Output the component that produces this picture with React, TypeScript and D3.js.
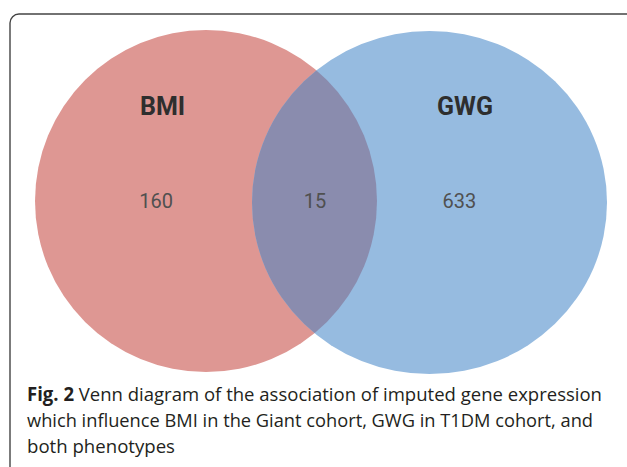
import React from "react";
import * as d3 from "d3";

// Venn sets and region counts
const setNames = ["BMI", "GWG"];
const setColors = ["#de9793", "#96bbe0"];
const overlapColor = "#8a8cae";
const regionCounts = [160, 15, 633]; // BMI only, both, GWG only

// circle layout in unit space (radius of BMI = 1)
const setCx = [0, 1.307];
const setCy = [0, 0.009];
const setRx = [1, 1.038];
const setRy = [1, 1.003];
const labelX = [-0.254, 1.515];
const countX = [-0.292, 0.637, 1.482];

const captionBold = "Fig. 2";
const captionLines = [
  "Venn diagram of the association of imputed gene expression",
  "which influence BMI in the Giant cohort, GWG in T1DM cohort, and",
  "both phenotypes",
];

const W = 627;
const H = 467;

export default function App() {
  const x = d3.scaleLinear().domain([-1, 2.345]).range([35, 607]);
  const y = d3.scaleLinear().domain([-1, 1]).range([30, 372]);
  const k = x(1) - x(0);

  const ellipses = setNames.map((n, i) => ({
    name: n,
    cx: x(setCx[i]),
    cy: y(setCy[i]),
    rx: setRx[i] * k,
    ry: setRy[i] * k,
    color: setColors[i],
  }));

  const textFont = "Roboto, 'Noto Sans', sans-serif";
  const capFont = "'Open Sans', 'Noto Sans', sans-serif";

  return (
    <svg
      width={W}
      height={H}
      style={{ position: "absolute", left: 0, top: 0, background: "#fff" }}
    >
      <defs>
        <clipPath id="clipGWG">
          <ellipse
            cx={ellipses[1].cx}
            cy={ellipses[1].cy}
            rx={ellipses[1].rx}
            ry={ellipses[1].ry}
          />
        </clipPath>
      </defs>

      {/* frame, right and bottom sides run off the picture */}
      <rect
        x={10}
        y={14}
        width={640}
        height={470}
        rx={9}
        fill="none"
        stroke="#444"
        strokeWidth={1.4}
      />

      {ellipses.map((e) => (
        <ellipse key={e.name} cx={e.cx} cy={e.cy} rx={e.rx} ry={e.ry} fill={e.color} />
      ))}
      <ellipse
        cx={ellipses[0].cx}
        cy={ellipses[0].cy}
        rx={ellipses[0].rx}
        ry={ellipses[0].ry}
        fill={overlapColor}
        clipPath="url(#clipGWG)"
      />

      {setNames.map((n, i) => (
        <text
          key={n}
          x={x(labelX[i])}
          y={y(-0.503)}
          textAnchor="middle"
          fontFamily={textFont}
          fontWeight="bold"
          fontSize={25}
          fill="#2e2e2e"
        >
          {n}
        </text>
      ))}

      {regionCounts.map((c, i) => (
        <text
          key={i}
          x={x(countX[i])}
          y={y(0.041)}
          textAnchor="middle"
          fontFamily={textFont}
          fontSize={20}
          fill="#505050"
        >
          {c}
        </text>
      ))}

      <g fontFamily={capFont} fontSize={19} fill="#231f20">
        <text x={27} y={401} textLength={575} lengthAdjust="spacingAndGlyphs">
          <tspan fontWeight="bold">{captionBold}</tspan>
          {"  " + captionLines[0]}
        </text>
        <text x={27} y={427} textLength={566} lengthAdjust="spacingAndGlyphs">
          {captionLines[1]}
        </text>
        <text x={27} y={453} textLength={148} lengthAdjust="spacingAndGlyphs">
          {captionLines[2]}
        </text>
      </g>
    </svg>
  );
}
